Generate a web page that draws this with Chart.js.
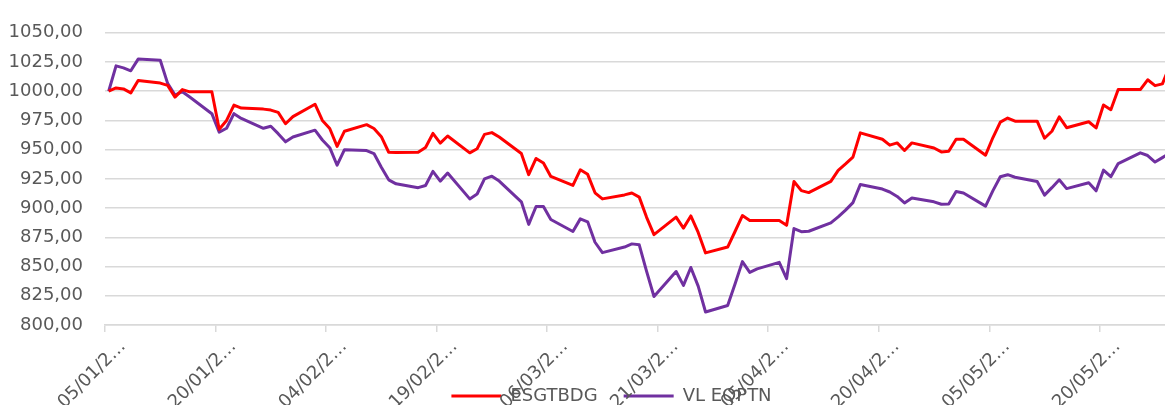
<!DOCTYPE html>
<html>
<head>
<meta charset="utf-8">
<script src="https://cdn.jsdelivr.net/npm/chart.js@4/dist/chart.umd.min.js"></script>
<style>
  html, body { margin: 0; padding: 0; background: #ffffff; }
  canvas { display: block; }
</style>
</head>
<body>
<canvas id="chart1" width="1165" height="405"></canvas>
<script>
// trading days and values of both series (base 1000)
var dates = [
  '05/01/2026','06/01/2026','07/01/2026','08/01/2026','09/01/2026',
  '12/01/2026','13/01/2026','14/01/2026','15/01/2026','16/01/2026',
  '19/01/2026','20/01/2026','21/01/2026','22/01/2026','23/01/2026',
  '26/01/2026','27/01/2026','28/01/2026','29/01/2026','30/01/2026',
  '02/02/2026','03/02/2026','04/02/2026','05/02/2026','06/02/2026',
  '09/02/2026','10/02/2026','11/02/2026','12/02/2026','13/02/2026',
  '16/02/2026','17/02/2026','18/02/2026','19/02/2026','20/02/2026',
  '23/02/2026','24/02/2026','25/02/2026','26/02/2026','27/02/2026',
  '02/03/2026','03/03/2026','04/03/2026','05/03/2026','06/03/2026',
  '09/03/2026','10/03/2026','11/03/2026','12/03/2026','13/03/2026',
  '16/03/2026','17/03/2026','18/03/2026','19/03/2026','20/03/2026',
  '23/03/2026','24/03/2026','25/03/2026','26/03/2026','27/03/2026',
  '30/03/2026','31/03/2026','01/04/2026','02/04/2026','03/04/2026',
  '06/04/2026','07/04/2026','08/04/2026','09/04/2026','10/04/2026',
  '13/04/2026','14/04/2026','15/04/2026','16/04/2026','17/04/2026',
  '20/04/2026','21/04/2026','22/04/2026','23/04/2026','24/04/2026',
  '27/04/2026','28/04/2026','29/04/2026','30/04/2026','01/05/2026',
  '04/05/2026','05/05/2026','06/05/2026','07/05/2026','08/05/2026',
  '11/05/2026','12/05/2026','13/05/2026','14/05/2026','15/05/2026',
  '18/05/2026','19/05/2026','20/05/2026','21/05/2026','22/05/2026',
  '25/05/2026','26/05/2026','27/05/2026','28/05/2026','29/05/2026'
];

var esg = [
  1000, 1002.8, 1002, 998.6, 1009.2,
  1007, 1005, 995, 1001.4, 999.5,
  999.5, 967.5, 975, 988.1, 985.6,
  984.7, 983.9, 981.9, 972.2, 978.3,
  988.9, 975, 968.1, 952.8, 965.8,
  971.4, 968.1, 961.1, 947.8, 947.5,
  947.8, 951.9, 963.9, 955.6, 961.7,
  947.3, 950.8, 963.1, 964.6, 960.8,
  946.7, 928.6, 942.5, 938.6, 927.1,
  919.4, 932.8, 928.9, 913.1, 907.9,
  911.3, 912.9, 909.4, 892.1, 877.3,
  892.3, 882.9, 893.3, 879.2, 861.7,
  866.7, 880, 893.6, 889.4, 889.4,
  889.4, 885.3, 922.8, 915, 913.3,
  922.9, 932.3, 937.8, 943.6, 964.4,
  958.9, 953.9, 955.8, 949.3, 955.8,
  951.4, 948.1, 948.6, 958.9, 958.9,
  945.3, 960.4, 973.6, 977.1, 974.4,
  974.4, 959.8, 965.8, 978.1, 968.8,
  973.9, 968.6, 988.2, 984.2, 1001.4,
  1001.4, 1009.8, 1004.8, 1006.3, 1022
];

var vlFund = [
  1000, 1021.7, 1020, 1017.5, 1027.5,
  1026.5, 1006.7, 996.7, 999.6, 995,
  980.8, 965, 968.3, 980.8, 976.7,
  968.3, 970, 963.7, 956.7, 960.8,
  966.7, 958.3, 951.7, 936.7, 950,
  949.2, 946.7, 935, 924.2, 920.8,
  917.5, 919.4, 931.4, 923.1, 930,
  907.9, 912.1, 925, 927.3, 923.1,
  905.4, 886.1, 901.4, 901.4, 890.3,
  880, 890.8, 888.3, 870.8, 861.9,
  866.7, 869.4, 868.6, 845.8, 824.4,
  845.8, 833.9, 849.2, 833.3, 811.1,
  816.7, 835, 854.2, 845, 848,
  853.6, 839.7, 882.5, 879.8, 880.2,
  887.3, 892.5, 898.3, 904.7, 920.2,
  916.3, 913.8, 910, 904.4, 908.6,
  905.4, 903.3, 903.6, 914.2, 912.9,
  901.7, 915, 926.9, 928.6, 926.4,
  922.8, 911.1, 917.5, 924.2, 916.7,
  921.7, 914.8, 932.5, 926.9, 938.1,
  947.3, 945, 939.4, 943.2, 947
];

var seriesNames = ['ESGTBDG', 'VL EQPTN'];
var tickLabels = ['05/01/2026','20/01/2026','04/02/2026','19/02/2026','06/03/2026',
                  '21/03/2026','05/04/2026','20/04/2026','05/05/2026','20/05/2026'];

// days since the first date, so weekends keep their width on the axis
function dayIndex(s){
  var p = s.split('/').map(Number);
  var q = dates[0].split('/').map(Number);
  return Math.round((Date.UTC(p[2], p[1]-1, p[0]) - Date.UTC(q[2], q[1]-1, q[0])) / 864e5);
}

function toPoints(values){
  var pts = [];
  for (var i = 0; i < dates.length; i++){
    pts.push({x: dayIndex(dates[i]), y: values[i]});
  }
  return pts;
}

var gridColor = '#d9d9d9';
var textColor = '#595959';
var font = {family: 'DejaVu Sans', size: 18};

// the legend takes no room in the layout: it sits over the date labels
var legendOverLabels = {
  id: 'legendOverLabels',
  afterLayout: function(chart){
    var lg = chart.legend;
    if (!lg) return;
    lg.left = 58;
    lg.right = chart.width;
    lg.top = chart.height - 44;
    lg.bottom = chart.height;
    lg.width = lg.right - lg.left;
    lg.height = 44;
  }
};

const ctx = document.getElementById('chart1');
new Chart(ctx, {
  type: 'line',
  data: {
    datasets: [{
      label: seriesNames[0],
      data: toPoints(esg),
      borderColor: '#ff0000',
      backgroundColor: '#ff0000',
      borderWidth: 3,
      pointRadius: 0,
      tension: 0,
      borderJoinStyle: 'round',
      fill: false
    }, {
      label: seriesNames[1],
      data: toPoints(vlFund),
      borderColor: '#7030a0',
      backgroundColor: '#7030a0',
      borderWidth: 3,
      pointRadius: 0,
      tension: 0,
      borderJoinStyle: 'round',
      fill: false
    }]
  },
  plugins: [legendOverLabels],
  options: {
    responsive: false,
    animation: false,
    devicePixelRatio: 1,
    layout: {padding: {top: 25, left: 0, right: 0, bottom: 0}},
    plugins: {
      legend: {
        position: 'bottom',
        maxHeight: 0.001,
        labels: {
          usePointStyle: true,
          pointStyle: 'line',
          pointStyleWidth: 50,
          padding: 26,
          color: textColor,
          font: font
        }
      },
      tooltip: {enabled: false}
    },
    scales: {
      x: {
        type: 'linear',
        min: -0.5,
        max: 143.35,
        afterBuildTicks: function(scale){
          scale.ticks = tickLabels.map(function(t){ return {value: dayIndex(t) - 0.5}; });
        },
        afterFit: function(scale){ scale.height = 80; },
        ticks: {
          minRotation: 45,
          maxRotation: 45,
          padding: 4,
          labelOffset: 18,
          color: textColor,
          font: font,
          callback: function(value, index){
            return tickLabels[index].slice(0, 7) + '\u2026';
          }
        },
        grid: {
          drawOnChartArea: false,
          drawTicks: true,
          tickLength: 7,
          color: gridColor,
          lineWidth: 1.5
        },
        border: {display: true, color: gridColor, width: 1.5}
      },
      y: {
        min: 800,
        max: 1050,
        afterFit: function(scale){ scale.width = 105; },
        ticks: {
          stepSize: 25,
          padding: 22,
          color: textColor,
          font: font,
          callback: function(v){ return v.toFixed(2).replace('.', ','); }
        },
        grid: {color: gridColor, lineWidth: 1.5, drawTicks: false},
        border: {display: false}
      }
    }
  }
});
</script>
</body>
</html>
